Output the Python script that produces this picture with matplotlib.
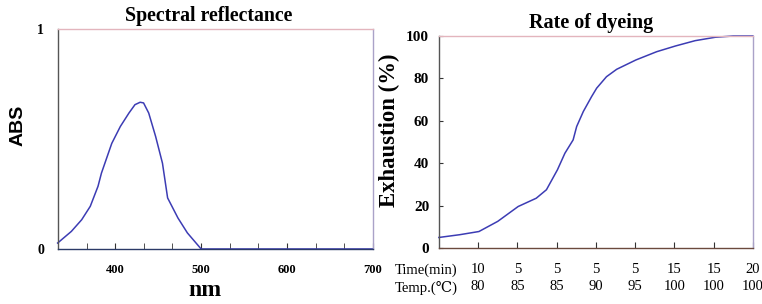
import matplotlib
matplotlib.use("Agg")
import matplotlib.pyplot as plt
import matplotlib.transforms as mtransforms

# spectral curve (nm, ABS)
wavelength = [333, 349, 361, 371, 380, 384, 396, 406, 416, 423, 429, 433, 439,
              447, 455, 461, 473, 484, 500, 600, 700]
absorbance = [0.027, 0.08, 0.133, 0.194, 0.285, 0.345, 0.48, 0.557, 0.618, 0.656,
              0.667, 0.664, 0.618, 0.512, 0.39, 0.232, 0.141, 0.073, 0.0, 0.0, 0.0]

# dyeing curve (step position, exhaustion %)
step_pos = [0, 0.53, 1.02, 1.5, 2.02, 2.48, 2.74, 3.02, 3.21, 3.42, 3.51, 3.68,
            3.89, 4.02, 4.27, 4.53, 5.02, 5.55, 6.03, 6.53, 7.04, 7.5, 8]
exhaustion = [5.0, 6.3, 7.8, 12.6, 19.6, 23.5, 27.5, 36.9, 44.7, 51, 57.3, 64.4,
              71.4, 75.4, 80.8, 84.3, 88.7, 92.6, 95.3, 97.8, 99.4, 100, 100]

time_min = [10, 5, 5, 5, 5, 15, 15, 20]
temp_c = [80, 85, 85, 90, 95, 100, 100, 100]

serif = ["Liberation Serif", "DejaVu Serif", "DejaVu Sans"]
line_color = "#3c3cb4"

fig = plt.figure(figsize=(7.62, 3.04), dpi=100)

# ---- left: spectral reflectance ----
ax1 = fig.add_axes([0.076, 0.181, 0.4135, 0.7236])
ax1.plot(wavelength, absorbance, color=line_color, lw=1.1, clip_on=False)
ax1.set_xlim(1000 / 3, 700)
ax1.set_ylim(0, 1)
ax1.set_xticks([400, 500, 600, 700])
ax1.set_xticks([366.67 + i * 100 / 3 for i in range(10)], minor=True)
ax1.set_xticklabels(["400", "500", "600", "700"], family=serif, weight="bold", fontsize=9)
ax1.tick_params(axis="x", which="both", direction="in", length=4, pad=11, color="#333333")
ax1.set_yticks([0, 1])
ax1.set_yticklabels(["0", "1"], family=serif, weight="bold", fontsize=10)
ax1.tick_params(axis="y", length=0, pad=10)
ax1.spines["left"].set_color("#555555")
ax1.spines["top"].set_color("#e3b5bd")
ax1.spines["right"].set_color("#aaa2c8")
ax1.spines["bottom"].set_color("#2b3a67")
for s in ax1.spines.values():
    s.set_linewidth(1.0)
ax1.set_title("Spectral reflectance", family=serif, weight="bold", fontsize=14.3,
              x=0.48, y=1.035, pad=0)
ax1.set_ylabel("ABS", family=["Liberation Sans", "DejaVu Sans"], weight="bold", fontsize=14)
ax1.yaxis.set_label_coords(-0.1, 0.56)
ax1.set_xlabel("nm", family=serif, weight="bold", fontsize=17)
ax1.xaxis.set_label_coords(0.467, -0.14)

# ---- right: rate of dyeing ----
ax2 = fig.add_axes([0.576, 0.184, 0.412, 0.6976])
ax2.plot(step_pos, exhaustion, color=line_color, lw=1.1, clip_on=False)
ax2.set_xlim(0, 8)
ax2.set_ylim(0, 100)
ax2.set_yticks([0, 20, 40, 60, 80, 100])
ax2.set_yticklabels([str(v) for v in [0, 20, 40, 60, 80, 100]], family=serif,
                    weight="bold", fontsize=11)
ax2.tick_params(axis="y", direction="in", length=3, pad=7, color="#333333")
ax2.set_xticks(range(1, 9))
ax2.set_xticklabels([f"{t}\n{c}" for t, c in zip(time_min, temp_c)], family=serif,
                    fontsize=10.5, linespacing=1.4)
ax2.tick_params(axis="x", direction="in", length=4, pad=11, color="#333333")
ax2.spines["left"].set_color("#555555")
ax2.spines["top"].set_color("#e3b5bd")
ax2.spines["right"].set_color("#aaa2c8")
ax2.spines["bottom"].set_color("#6b4a3e")
for s in ax2.spines.values():
    s.set_linewidth(1.0)
ax2.set_title("Rate of dyeing", family=serif, weight="bold", fontsize=14.5,
              x=0.484, y=1.04, pad=0)
ax2.set_ylabel("Exhaustion (%)", family=serif, weight="bold", fontsize=16.4)
ax2.yaxis.set_label_coords(-0.124, 0.557)

trans = mtransforms.offset_copy(ax2.transAxes, fig=fig, y=-11, units="points")
ax2.text(0.06, 0, "Time(min)\nTemp.(\u2103)", transform=trans, ha="right", va="top",
         family=serif, fontsize=10.5, linespacing=1.4)

fig.savefig("out.png", dpi=100)
